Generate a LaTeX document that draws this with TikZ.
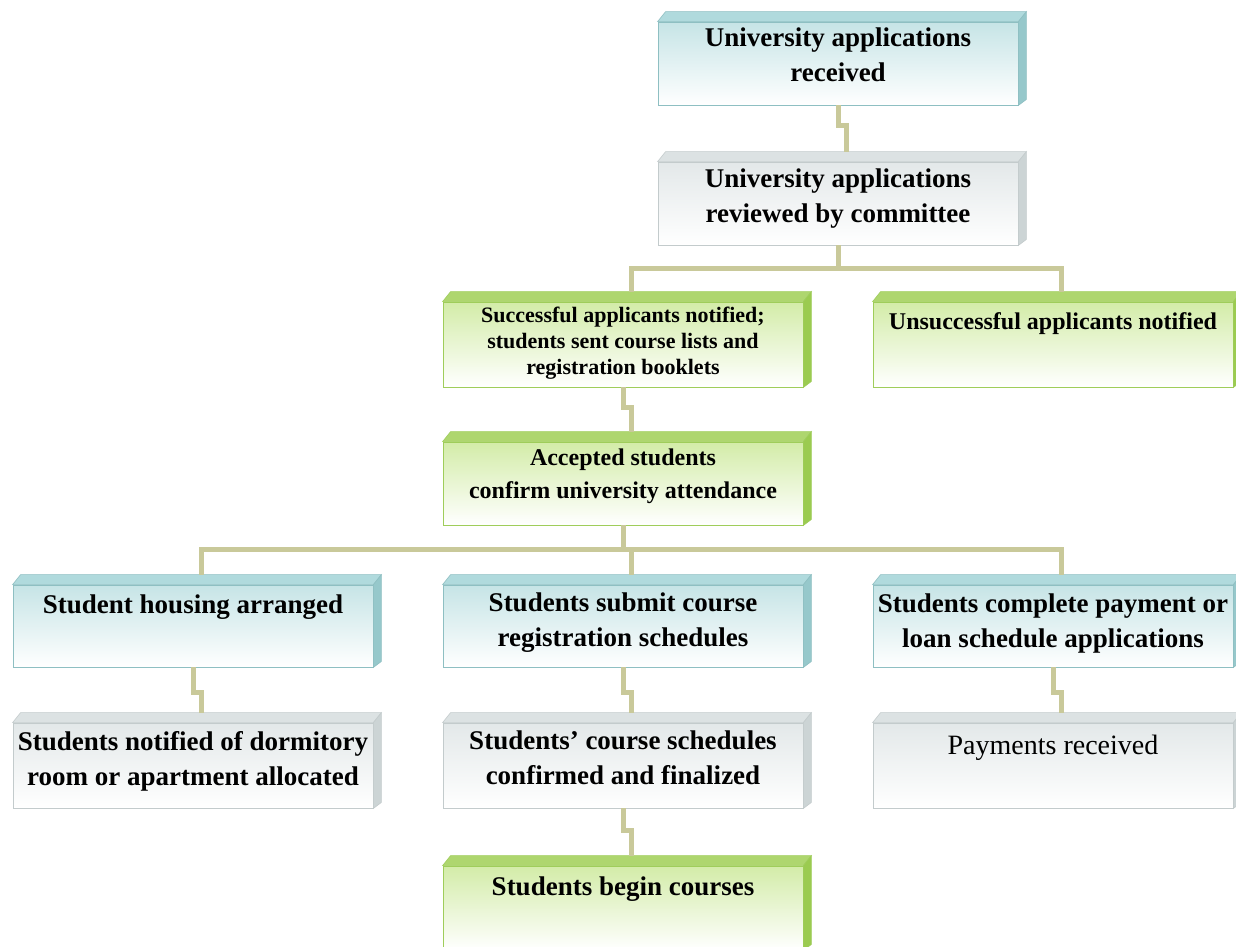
\documentclass[tikz,border=0pt]{standalone}
\usepackage{fontspec}
\setmainfont{Liberation Serif}
\definecolor{bluefill}{HTML}{C6E4E6}
\definecolor{bluetop}{HTML}{B0DADD}
\definecolor{blueside}{HTML}{96C8CB}
\definecolor{blueline}{HTML}{8EBFC2}
\definecolor{grayfill}{HTML}{E3E8E9}
\definecolor{graytop}{HTML}{DCE2E3}
\definecolor{grayside}{HTML}{CCD4D5}
\definecolor{grayline}{HTML}{C3CBCC}
\definecolor{greenfill}{HTML}{D3ECA8}
\definecolor{greentop}{HTML}{AED66E}
\definecolor{greenside}{HTML}{9BCB50}
\definecolor{greenline}{HTML}{9FCD5A}
\definecolor{conncol}{HTML}{C9C99A}
\tikzset{
  basebox/.style={rectangle, minimum width=360pt, inner sep=0pt, line width=0.8pt},
  bluebox/.style={basebox, draw=blueline, top color=bluefill, bottom color=white},
  graybox/.style={basebox, draw=grayline, top color=grayfill, bottom color=white},
  greenbox/.style={basebox, draw=greenline, top color=greenfill, bottom color=white},
  txt/.style={inner sep=0pt, align=center, text=black},
  conn/.style={draw=conncol, line width=5pt},
  fR/.style={font=\fontsize{28}{35}\selectfont},
  fB/.style={font=\bfseries\fontsize{27}{35}\selectfont},
  fS/.style={font=\bfseries\fontsize{22}{26}\selectfont},
  fM/.style={font=\bfseries\fontsize{24}{33}\selectfont}
}
% #1 name, #2 kind, #3 x, #4 y, #5 height, #6 text offset, #7 font style, #8 text
\newcommand\flowbox[8]{%
  \node[#2box, minimum height=#5pt] (#1) at (#3,#4) {};
  \path[fill=#2top, draw=#2line, line width=0.6pt] (#1.north west) -- ++(8,-10) -- ([shift={(8,-10)}]#1.north east) -- (#1.north east) -- cycle;
  \path[fill=#2side, draw=#2line, line width=0.6pt] (#1.north east) -- ++(8,-10) -- ([shift={(8,-6)}]#1.south east) -- (#1.south east) -- cycle;
  \node[txt, #7, anchor=north] (#1t) at ([yshift=-#6pt]#1.north) {#8};
  \coordinate (#1in) at ([shift={(8,-10)}]#1.north);
}
\begin{document}
\begin{tikzpicture}[x=1pt,y=-1pt]
\useasboundingbox (0,0) rectangle (1236,947);
\fill[white] (0,0) rectangle (1236,947);

\flowbox{ua}{blue}{838}{63.5}{83}{6}{fB}{University applications\\received}
\flowbox{ub}{gray}{838}{203.5}{83}{7}{fB}{University applications\\reviewed by committee}
\flowbox{s}{green}{623}{344.5}{85}{5}{fS}{Successful applicants notified;\\students sent course lists and\\registration booklets}
\flowbox{un}{green}{1053}{344.5}{85}{11}{fM}{Unsuccessful applicants notified}
\flowbox{a}{green}{623}{483.5}{83}{7}{fM}{Accepted students\\confirm university attendance}
\flowbox{h}{blue}{193}{626}{82}{10}{fB}{Student housing arranged}
\flowbox{r}{blue}{623}{626}{82}{8}{fB}{Students submit course\\registration schedules}
\flowbox{p}{blue}{1053}{626}{82}{9}{fB}{Students complete payment or\\loan schedule applications}
\flowbox{d}{gray}{193}{765.5}{85}{9}{fB}{Students notified of dormitory\\room or apartment allocated}
\flowbox{c}{gray}{623}{765.5}{85}{8}{fB}{Students' course schedules\\confirmed and finalized}
\flowbox{pay}{gray}{1053}{765.5}{85}{12}{fR}{Payments received}
\flowbox{b}{green}{623}{908}{84}{11}{fB}{Students begin courses}

\coordinate (bus1) at (838,268);
\coordinate (bus2) at (623,549);

\draw[conn] (ua.south) -- ++(0,20) -| (ubin);
\draw[conn] (ub.south) -- (ub.south |- bus1);
\draw[conn] (sin) -- (sin |- bus1) -- (unin |- bus1) -- (unin);
\draw[conn] (s.south) -- ++(0,20) -| (ain);
\draw[conn] (a.south) -- (a.south |- bus2);
\draw[conn] (hin) -- (hin |- bus2) -- (pin |- bus2) -- (pin);
\draw[conn] (rin) -- (rin |- bus2);
\draw[conn] (h.south) -- ++(0,25) -| (din);
\draw[conn] (r.south) -- ++(0,25) -| (cin);
\draw[conn] (p.south) -- ++(0,25) -| (payin);
\draw[conn] (c.south) -- ++(0,22) -| (bin);
\end{tikzpicture}
\end{document}
